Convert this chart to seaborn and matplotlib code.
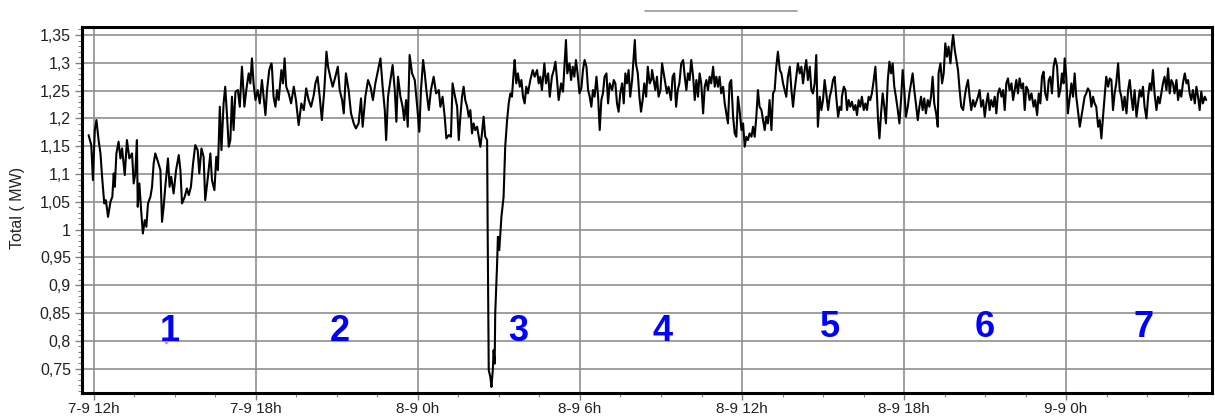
import matplotlib
matplotlib.use("Agg")
import numpy as np
import pandas as pd
import seaborn as sns
import matplotlib.pyplot as plt
from matplotlib.ticker import FixedLocator, MultipleLocator
from matplotlib.lines import Line2D

# Time axis: hours counted from 7-9 00h; values: total load in MW
seg1_h = [11.80, 11.90, 11.96, 12.03, 12.09, 12.17, 12.24, 12.30, 12.38, 12.44,
          12.52, 12.61, 12.68, 12.73, 12.77, 12.83, 12.91, 12.98, 13.04, 13.14,
          13.22, 13.31, 13.41, 13.47, 13.53, 13.59, 13.62, 13.68, 13.75, 13.81,
          13.88, 13.94, 14.00, 14.09, 14.15, 14.21, 14.27, 14.37, 14.46, 14.52,
          14.58, 14.64, 14.74, 14.80, 14.86, 14.95, 15.04, 15.14, 15.20, 15.26,
          15.36, 15.44, 15.51, 15.59, 15.67, 15.75, 15.84, 15.90, 15.98, 16.06,
          16.12, 16.22, 16.31, 16.37, 16.46, 16.53, 16.59, 16.66, 16.72, 16.80,
          16.86, 16.93, 16.99, 17.05, 17.11, 17.17, 17.24, 17.33, 17.40, 17.48,
          17.57, 17.64, 17.73, 17.79, 17.85, 17.91, 17.98, 18.06, 18.14, 18.22,
          18.28, 18.35, 18.41, 18.49, 18.57]
seg1_mw = [1.170, 1.152, 1.089, 1.179, 1.197, 1.161, 1.137, 1.095, 1.047, 1.053,
           1.023, 1.050, 1.059, 1.101, 1.077, 1.137, 1.158, 1.128, 1.146, 1.098,
           1.161, 1.128, 1.137, 1.083, 1.101, 1.161, 1.041, 1.083, 1.032, 0.993,
           1.017, 1.005, 1.047, 1.059, 1.077, 1.119, 1.137, 1.122, 1.107, 1.014,
           1.041, 1.077, 1.128, 1.077, 1.095, 1.065, 1.107, 1.134, 1.107, 1.047,
           1.059, 1.074, 1.062, 1.077, 1.119, 1.152, 1.143, 1.101, 1.146, 1.131,
           1.053, 1.095, 1.137, 1.089, 1.071, 1.131, 1.107, 1.221, 1.143, 1.227,
           1.257, 1.203, 1.149, 1.161, 1.239, 1.179, 1.248, 1.251, 1.221, 1.293,
           1.221, 1.251, 1.281, 1.263, 1.308, 1.263, 1.233, 1.251, 1.227, 1.269,
           1.239, 1.206, 1.251, 1.287, 1.299]

seg2_h = [18.59, 18.65, 18.72, 18.78, 18.84, 18.94, 19.00, 19.06, 19.12, 19.21,
          19.30, 19.40, 19.48, 19.58, 19.68, 19.77, 19.86, 19.95, 20.04, 20.14,
          20.20, 20.28, 20.36, 20.44, 20.53, 20.61, 20.67, 20.75, 20.84, 20.94,
          21.03, 21.10, 21.19, 21.25, 21.33, 21.43, 21.52, 21.62, 21.70, 21.80,
          21.89, 21.95, 22.05, 22.15, 22.24, 22.33, 22.42, 22.52, 22.61, 22.69,
          22.77, 22.82, 22.89, 22.98, 23.06, 23.14, 23.20, 23.26, 23.35, 23.43,
          23.49, 23.56, 23.62, 23.69, 23.78, 23.88, 23.96, 24.05, 24.11, 24.19,
          24.25, 24.31, 24.40, 24.48, 24.58, 24.67, 24.77, 24.83, 24.91, 24.99,
          25.05, 25.14, 25.22, 25.28, 25.36, 25.45, 25.51, 25.57]
seg2_mw = [1.293, 1.239, 1.221, 1.251, 1.233, 1.287, 1.263, 1.308, 1.257, 1.245,
           1.227, 1.257, 1.233, 1.188, 1.227, 1.215, 1.254, 1.233, 1.221, 1.242,
           1.263, 1.275, 1.239, 1.197, 1.251, 1.320, 1.293, 1.275, 1.257, 1.275,
           1.293, 1.251, 1.233, 1.209, 1.281, 1.251, 1.209, 1.191, 1.182, 1.191,
           1.236, 1.185, 1.239, 1.269, 1.257, 1.233, 1.263, 1.287, 1.308, 1.257,
           1.215, 1.161, 1.239, 1.269, 1.296, 1.251, 1.194, 1.275, 1.239, 1.221,
           1.197, 1.233, 1.185, 1.314, 1.281, 1.269, 1.227, 1.176, 1.251, 1.305,
           1.281, 1.251, 1.215, 1.251, 1.275, 1.245, 1.251, 1.221, 1.239, 1.203,
           1.164, 1.170, 1.167, 1.263, 1.242, 1.221, 1.161, 1.203]

seg3_h = [25.63, 25.69, 25.75, 25.82, 25.88, 25.94, 26.00, 26.06, 26.12, 26.19,
          26.25, 26.31, 26.37, 26.43, 26.49, 26.56, 26.58, 26.62, 26.68, 26.72,
          26.77, 26.80, 26.84, 26.86, 26.93, 26.96, 27.01, 27.09, 27.17, 27.23,
          27.30, 27.36, 27.42, 27.48, 27.54, 27.58, 27.64, 27.70, 27.77, 27.83,
          27.89, 27.95, 28.01, 28.07, 28.16, 28.25, 28.32, 28.41, 28.47, 28.53,
          28.59, 28.68, 28.74, 28.82, 28.88, 28.96, 29.03, 29.09, 29.15, 29.21,
          29.30, 29.37, 29.43, 29.48, 29.53, 29.61, 29.67, 29.73, 29.79, 29.85,
          29.91, 29.98, 30.05, 30.11, 30.17, 30.24, 30.30, 30.36, 30.42, 30.48,
          30.54, 30.61, 30.67, 30.73, 30.79, 30.85, 30.91, 30.98, 31.04, 31.10,
          31.19, 31.25, 31.31, 31.37, 31.43, 31.49, 31.56, 31.62, 31.68, 31.74,
          31.80, 31.86, 31.93, 31.99, 32.03, 32.07, 32.14, 32.20, 32.26, 32.32,
          32.38, 32.45, 32.51, 32.58, 32.64]
seg3_mw = [1.239, 1.257, 1.233, 1.221, 1.203, 1.215, 1.173, 1.191, 1.179, 1.185,
           1.167, 1.149, 1.173, 1.203, 1.167, 1.161, 1.000, 0.747, 0.735, 0.717,
           0.747, 0.783, 0.759, 0.849, 0.939, 0.987, 0.963, 1.023, 1.059, 1.149,
           1.197, 1.227, 1.245, 1.239, 1.281, 1.305, 1.263, 1.281, 1.257, 1.269,
           1.239, 1.227, 1.257, 1.245, 1.269, 1.287, 1.275, 1.287, 1.263, 1.275,
           1.251, 1.299, 1.263, 1.281, 1.239, 1.275, 1.287, 1.302, 1.269, 1.233,
           1.263, 1.248, 1.299, 1.341, 1.281, 1.299, 1.269, 1.293, 1.275, 1.305,
           1.281, 1.245, 1.254, 1.287, 1.305, 1.293, 1.251, 1.239, 1.221, 1.251,
           1.239, 1.275, 1.239, 1.179, 1.233, 1.245, 1.275, 1.281, 1.227, 1.263,
           1.251, 1.269, 1.263, 1.227, 1.212, 1.245, 1.263, 1.227, 1.281, 1.263,
           1.287, 1.239, 1.269, 1.311, 1.341, 1.299, 1.281, 1.239, 1.212, 1.233,
           1.263, 1.239, 1.293, 1.263, 1.269]

seg4_h = [32.67, 32.73, 32.79, 32.85, 32.91, 32.98, 33.04, 33.10, 33.16, 33.22,
          33.28, 33.37, 33.43, 33.49, 33.56, 33.62, 33.68, 33.75, 33.82, 33.88,
          33.94, 34.00, 34.06, 34.12, 34.19, 34.25, 34.31, 34.37, 34.43, 34.49,
          34.56, 34.62, 34.68, 34.74, 34.80, 34.86, 34.93, 34.99, 35.05, 35.11,
          35.17, 35.23, 35.30, 35.36, 35.42, 35.48, 35.54, 35.60, 35.67, 35.73,
          35.79, 35.85, 35.91, 35.98, 36.04, 36.10, 36.16, 36.22, 36.28, 36.35,
          36.41, 36.47, 36.53, 36.59, 36.65, 36.72, 36.78, 36.84, 36.90, 36.96,
          37.02, 37.09, 37.15, 37.21, 37.27, 37.33, 37.40, 37.46, 37.52, 37.58,
          37.64, 37.70, 37.77, 37.83, 37.89, 37.95, 38.01, 38.07, 38.14, 38.20,
          38.26, 38.32, 38.38, 38.44, 38.51, 38.57, 38.63, 38.69, 38.75, 38.81,
          38.88, 38.94, 39.00, 39.06, 39.12, 39.19, 39.25, 39.31, 39.37, 39.43,
          39.49, 39.56, 39.62, 39.68]
seg4_mw = [1.287, 1.269, 1.251, 1.275, 1.239, 1.251, 1.299, 1.281, 1.263, 1.245,
           1.257, 1.233, 1.275, 1.281, 1.221, 1.251, 1.263, 1.299, 1.305, 1.275,
           1.251, 1.281, 1.269, 1.305, 1.275, 1.233, 1.269, 1.239, 1.281, 1.263,
           1.209, 1.257, 1.269, 1.251, 1.275, 1.263, 1.293, 1.257, 1.275, 1.257,
           1.275, 1.245, 1.257, 1.227, 1.209, 1.191, 1.263, 1.269, 1.203, 1.173,
           1.167, 1.239, 1.215, 1.179, 1.191, 1.149, 1.167, 1.161, 1.173, 1.167,
           1.185, 1.167, 1.203, 1.251, 1.221, 1.215, 1.197, 1.179, 1.203, 1.191,
           1.233, 1.179, 1.245, 1.251, 1.293, 1.320, 1.287, 1.281, 1.263, 1.251,
           1.239, 1.275, 1.293, 1.251, 1.221, 1.251, 1.275, 1.299, 1.281, 1.293,
           1.263, 1.287, 1.305, 1.269, 1.293, 1.251, 1.245, 1.263, 1.314, 1.185,
           1.239, 1.215, 1.233, 1.269, 1.245, 1.215, 1.239, 1.251, 1.269, 1.275,
           1.239, 1.203, 1.221, 1.215]

seg5_h = [39.70, 39.77, 39.83, 39.89, 39.95, 40.01, 40.07, 40.14, 40.20, 40.26,
          40.32, 40.38, 40.44, 40.51, 40.57, 40.63, 40.69, 40.75, 40.81, 40.88,
          40.94, 41.00, 41.04, 41.09, 41.15, 41.21, 41.27, 41.33, 41.40, 41.46,
          41.52, 41.58, 41.64, 41.70, 41.77, 41.83, 41.89, 41.95, 42.01, 42.07,
          42.14, 42.20, 42.26, 42.32, 42.38, 42.44, 42.51, 42.57, 42.63, 42.69,
          42.75, 42.81, 42.88, 42.94, 43.00, 43.06, 43.12, 43.19, 43.25, 43.28,
          43.35, 43.41, 43.47, 43.53, 43.59, 43.65, 43.72, 43.78, 43.82, 43.88,
          43.94, 44.00, 44.06, 44.12, 44.19, 44.25, 44.31, 44.37, 44.43, 44.49,
          44.56, 44.62, 44.68, 44.74, 44.80, 44.86, 44.93, 44.99, 45.05, 45.11,
          45.17, 45.23, 45.30, 45.36, 45.42, 45.48, 45.54, 45.61, 45.67, 45.73,
          45.79, 45.85, 45.91, 45.98, 46.04, 46.10, 46.16, 46.22, 46.28, 46.35,
          46.41, 46.47, 46.53, 46.59, 46.65, 46.72]
seg5_mw = [1.239, 1.257, 1.251, 1.215, 1.233, 1.221, 1.230, 1.215, 1.224, 1.206,
           1.233, 1.221, 1.239, 1.215, 1.227, 1.215, 1.239, 1.233, 1.245, 1.269,
           1.293, 1.239, 1.197, 1.164, 1.209, 1.245, 1.221, 1.191, 1.269, 1.302,
           1.281, 1.299, 1.257, 1.239, 1.215, 1.191, 1.233, 1.287, 1.251, 1.203,
           1.221, 1.245, 1.263, 1.281, 1.251, 1.227, 1.197, 1.221, 1.239, 1.215,
           1.236, 1.209, 1.233, 1.221, 1.239, 1.275, 1.227, 1.209, 1.185, 1.281,
           1.299, 1.263, 1.281, 1.335, 1.311, 1.329, 1.299, 1.335, 1.350, 1.323,
           1.305, 1.287, 1.251, 1.221, 1.215, 1.239, 1.257, 1.269, 1.239, 1.215,
           1.233, 1.221, 1.230, 1.239, 1.251, 1.221, 1.233, 1.203, 1.227, 1.245,
           1.215, 1.233, 1.221, 1.239, 1.209, 1.245, 1.254, 1.239, 1.251, 1.215,
           1.263, 1.272, 1.251, 1.263, 1.233, 1.251, 1.269, 1.245, 1.272, 1.254,
           1.263, 1.215, 1.257, 1.251, 1.233, 1.245]

seg6_h = [46.74, 46.80, 46.86, 46.93, 46.99, 47.05, 47.11, 47.17, 47.23, 47.30,
          47.36, 47.42, 47.48, 47.54, 47.60, 47.67, 47.73, 47.79, 47.85, 47.91,
          47.95, 48.01, 48.07, 48.14, 48.20, 48.26, 48.32, 48.38, 48.44, 48.51,
          48.57, 48.63, 48.69, 48.75, 48.81, 48.88, 48.94, 49.00, 49.06, 49.12,
          49.19, 49.25, 49.31, 49.37, 49.43, 49.49, 49.56, 49.62, 49.68, 49.74,
          49.80, 49.86, 49.93, 49.99, 50.05, 50.11, 50.17, 50.24, 50.30, 50.36,
          50.42, 50.48, 50.54, 50.61, 50.67, 50.73, 50.79, 50.85, 50.91, 50.98,
          51.04, 51.10, 51.16, 51.22, 51.28, 51.35, 51.41, 51.47, 51.53, 51.59,
          51.65, 51.72, 51.78, 51.84, 51.90, 51.96, 52.02, 52.09, 52.15, 52.21,
          52.27, 52.33, 52.40, 52.46, 52.52, 52.58, 52.64, 52.70, 52.77, 52.83,
          52.89, 52.95, 53.01, 53.07, 53.14, 53.19]
seg6_mw = [1.239, 1.221, 1.233, 1.206, 1.245, 1.227, 1.275, 1.284, 1.245, 1.233,
           1.269, 1.275, 1.245, 1.293, 1.308, 1.293, 1.239, 1.251, 1.281, 1.263,
           1.308, 1.275, 1.209, 1.239, 1.263, 1.239, 1.281, 1.239, 1.215, 1.185,
           1.203, 1.221, 1.239, 1.245, 1.254, 1.248, 1.221, 1.239, 1.227, 1.221,
           1.185, 1.197, 1.164, 1.203, 1.239, 1.275, 1.257, 1.272, 1.269, 1.215,
           1.245, 1.263, 1.299, 1.251, 1.239, 1.215, 1.239, 1.209, 1.251, 1.269,
           1.239, 1.215, 1.251, 1.203, 1.227, 1.251, 1.239, 1.257, 1.221, 1.200,
           1.239, 1.263, 1.251, 1.287, 1.245, 1.215, 1.239, 1.227, 1.245, 1.263,
           1.275, 1.251, 1.290, 1.245, 1.269, 1.263, 1.245, 1.269, 1.233, 1.251,
           1.239, 1.263, 1.281, 1.263, 1.269, 1.245, 1.233, 1.251, 1.227, 1.257,
           1.239, 1.215, 1.248, 1.227, 1.239, 1.233]

# Axis ticks and labels
x_tick_hours = [12, 18, 24, 30, 36, 42, 48]
x_tick_labels = ["7-9 12h", "7-9 18h", "8-9 0h", "8-9 6h", "8-9 12h", "8-9 18h", "9-9 0h"]
y_tick_values = [0.75, 0.80, 0.85, 0.90, 0.95, 1.00, 1.05, 1.10, 1.15, 1.20, 1.25, 1.30, 1.35]
y_tick_labels = ["0,75", "0,8", "0,85", "0,9", "0,95", "1", "1,05", "1,1", "1,15", "1,2", "1,25", "1,3", "1,35"]

# Period markers
period_labels = ["1", "2", "3", "4", "5", "6", "7"]
period_hours = [14.81, 21.11, 27.70, 33.07, 39.26, 45.00, 50.89]
period_levels = [0.800, 0.800, 0.800, 0.800, 0.806, 0.806, 0.806]

df = pd.DataFrame({
    "hours": np.concatenate([seg1_h, seg2_h, seg3_h, seg4_h, seg5_h, seg6_h]),
    "mw": np.concatenate([seg1_mw, seg2_mw, seg3_mw, seg4_mw, seg5_mw, seg6_mw]),
})

sns.set_style("white")
plt.rcParams["font.family"] = ["Liberation Sans", "DejaVu Sans"]

W, H = 1215, 416
fig = plt.figure(figsize=(W / 100, H / 100), dpi=100)
ax = fig.add_axes([82 / W, 23 / H, 1130 / W, 366 / H])

sns.lineplot(data=df, x="hours", y="mw", ax=ax, color="black", lw=1.5,
             estimator=None, sort=False, zorder=3)

ax.set_xlim(11.556, 53.407)
ax.set_ylim(0.7061, 1.3644)

ax.xaxis.set_major_locator(FixedLocator(x_tick_hours))
ax.set_xticklabels(x_tick_labels)
ax.xaxis.set_minor_locator(MultipleLocator(1.5))
ax.yaxis.set_major_locator(FixedLocator(y_tick_values))
ax.set_yticklabels(y_tick_labels)
ax.yaxis.set_minor_locator(MultipleLocator(0.01))

ax.grid(True, which="major", color="#8f8f8f", lw=1.2, zorder=0)
ax.set_axisbelow(True)
for side in ["left", "right", "top", "bottom"]:
    ax.spines[side].set_visible(True)
    ax.spines[side].set_color("black")
    ax.spines[side].set_linewidth(2.2)

ax.tick_params(which="major", direction="out", length=5, width=1, color="#808080",
               labelsize=11.5, labelcolor="#222222", pad=3)
ax.tick_params(which="minor", direction="out", length=3, width=0.8, color="#808080")
ax.tick_params(axis="x", which="major", labelsize=11, pad=1.5)
ax.tick_params(axis="x", which="both", bottom=True, top=False)
ax.tick_params(axis="y", which="both", left=True, right=False)

ax.set_xlabel("")
ax.set_ylabel("Total ( MW)", fontsize=11.5, color="#222222")
ax.yaxis.set_label_coords(-0.0505, 0.505)

for lab, hx, lv in zip(period_labels, period_hours, period_levels):
    ax.text(hx, lv, lab, color="#0000ff", fontsize=26, fontweight="bold",
            ha="center", va="baseline", zorder=4)

# small pink mark beside the first period number
ax.plot([14.66], [0.797], marker="o", ms=1.5, color="#ff77dd", zorder=4)

# legend stub above the plot
fig.add_artist(Line2D([645 / W, 797 / W], [1 - 11 / H, 1 - 11 / H],
                      color="#999999", lw=1.2))

fig.savefig("out.png", dpi=100)
